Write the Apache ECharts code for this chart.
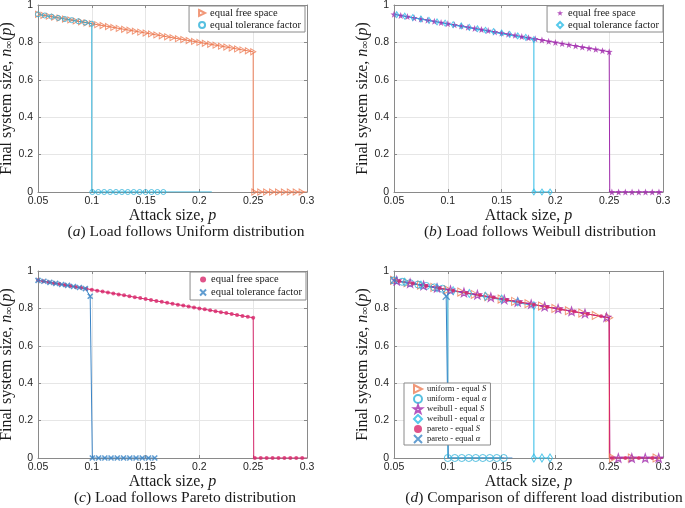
<!DOCTYPE html>
<html><head><meta charset="utf-8">
<script src="https://cdn.jsdelivr.net/npm/echarts@6/dist/echarts.min.js"></script>
<style>html,body{margin:0;padding:0;background:#fff}#c{width:685px;height:508px}</style>
</head><body><div id="c"></div>
<script>
// ---------- tick values ----------
const xTicks = [0.05, 0.1, 0.15, 0.2, 0.25, 0.3];
const yTicks = [0, 0.2, 0.4, 0.6, 0.8, 1];

// ---------- (a) Uniform ----------
const aS_lineP = [0.05, 0.25, 0.25, 0.3];
const aS_lineN = [0.95, 0.75, 0, 0];
const aS_markP = [0.05,0.055,0.06,0.065,0.07,0.075,0.08,0.085,0.09,0.095,0.1,0.105,0.11,0.115,0.12,0.125,0.13,0.135,0.14,0.145,0.15,0.155,0.16,0.165,0.17,0.175,0.18,0.185,0.19,0.195,0.2,0.205,0.21,0.215,0.22,0.225,0.23,0.235,0.24,0.245,0.25,0.251,0.2565,0.262,0.2675,0.273,0.2785,0.284,0.2895,0.295];
const aS_markN = [0.95,0.945,0.94,0.935,0.93,0.925,0.92,0.915,0.91,0.905,0.9,0.895,0.89,0.885,0.88,0.875,0.87,0.865,0.86,0.855,0.85,0.845,0.84,0.835,0.83,0.825,0.82,0.815,0.81,0.805,0.8,0.795,0.79,0.785,0.78,0.775,0.77,0.765,0.76,0.755,0.75,0,0,0,0,0,0,0,0,0];
const aT_lineP = [0.05, 0.1, 0.1, 0.2115];
const aT_lineN = [0.95, 0.9, 0, 0];
const aT_markP = [0.05,0.05625,0.0625,0.06875,0.075,0.08125,0.0875,0.09375,0.1,0.1005,0.106,0.1115,0.117,0.1225,0.128,0.1335,0.139,0.1445,0.15,0.1555,0.161,0.1665];
const aT_markN = [0.95,0.944,0.938,0.931,0.925,0.919,0.913,0.906,0.9,0,0,0,0,0,0,0,0,0,0,0,0,0];

// ---------- (b) Weibull ----------
const bS_lineP = [0.05, 0.25, 0.2505, 0.3];
const bS_lineN = [0.95, 0.75, 0, 0];
const bS_markP = [0.05,0.05625,0.0625,0.06875,0.075,0.08125,0.0875,0.09375,0.1,0.10625,0.1125,0.11875,0.125,0.13125,0.1375,0.14375,0.15,0.15625,0.1625,0.16875,0.175,0.18125,0.1875,0.19375,0.2,0.20625,0.2125,0.21875,0.225,0.23125,0.2375,0.24375,0.25,0.2525,0.25875,0.265,0.27125,0.2775,0.28375,0.29,0.29625];
const bS_markN = [0.95,0.944,0.938,0.931,0.925,0.919,0.913,0.906,0.9,0.894,0.888,0.881,0.875,0.869,0.863,0.856,0.85,0.844,0.838,0.831,0.825,0.819,0.813,0.806,0.8,0.794,0.788,0.781,0.775,0.769,0.763,0.756,0.75,0,0,0,0,0,0,0,0];
const bT_lineP = [0.05, 0.18, 0.18, 0.195];
const bT_lineN = [0.95, 0.815, 0, 0];
const bT_markP = [0.0525,0.06,0.0675,0.075,0.0825,0.09,0.0975,0.105,0.1125,0.12,0.1275,0.135,0.1425,0.15,0.1575,0.165,0.1725,0.18,0.18,0.1875,0.195];
const bT_markN = [0.948,0.94,0.933,0.925,0.918,0.91,0.903,0.895,0.888,0.88,0.873,0.865,0.858,0.85,0.843,0.835,0.827,0.815,0,0,0];

// ---------- (c) Pareto ----------
const cS_lineP = [0.05, 0.25, 0.2505, 0.3];
const cS_lineN = [0.95, 0.75, 0, 0];
const cS_markP = [0.05,0.055,0.06,0.065,0.07,0.075,0.08,0.085,0.09,0.095,0.1,0.105,0.11,0.115,0.12,0.125,0.13,0.135,0.14,0.145,0.15,0.155,0.16,0.165,0.17,0.175,0.18,0.185,0.19,0.195,0.2,0.205,0.21,0.215,0.22,0.225,0.23,0.235,0.24,0.245,0.25,0.2515,0.257,0.2625,0.268,0.2735,0.279,0.2845,0.29,0.2955];
const cS_markN = [0.95,0.945,0.94,0.935,0.93,0.925,0.92,0.915,0.91,0.905,0.9,0.895,0.89,0.885,0.88,0.875,0.87,0.865,0.86,0.855,0.85,0.845,0.84,0.835,0.83,0.825,0.82,0.815,0.81,0.805,0.8,0.795,0.79,0.785,0.78,0.775,0.77,0.765,0.76,0.755,0.75,0,0,0,0,0,0,0,0,0];
const cT_lineP = [0.05, 0.094, 0.0985, 0.1005, 0.1585];
const cT_lineN = [0.95, 0.906, 0.865, 0, 0];
const cT_markP = [0.05,0.0555,0.061,0.0665,0.072,0.0775,0.083,0.0885,0.094,0.0985,0.1005,0.1063,0.1121,0.1179,0.1237,0.1295,0.1353,0.1411,0.1469,0.1527,0.1585];
const cT_markN = [0.95,0.945,0.939,0.934,0.928,0.923,0.917,0.912,0.906,0.865,0,0,0,0,0,0,0,0,0,0,0];

// ---------- (d) Comparison ----------
const dUS_lineP = [0.05, 0.25, 0.25, 0.3];
const dUS_lineN = [0.95, 0.75, 0, 0];
const dUS_markP = [0.05,0.0625,0.075,0.0875,0.1,0.1125,0.125,0.1375,0.15,0.1625,0.175,0.1875,0.2,0.2125,0.225,0.2375,0.25,0.2535,0.271,0.294];
const dUS_markN = [0.95,0.9375,0.925,0.9125,0.9,0.8875,0.875,0.8625,0.85,0.8375,0.825,0.8125,0.8,0.7875,0.775,0.7625,0.75,0,0,0];
const dUA_lineP = [0.05, 0.1, 0.1, 0.152];
const dUA_lineN = [0.95, 0.9, 0, 0];
const dUA_markP = [0.05,0.0575,0.065,0.0725,0.08,0.0875,0.095,0.1,0.1065,0.113,0.1195,0.126,0.1325,0.139,0.1455,0.152];
const dUA_markN = [0.95,0.9425,0.935,0.9275,0.92,0.9125,0.905,0,0,0,0,0,0,0,0,0];
const dWS_lineP = [0.05, 0.25, 0.2505, 0.3];
const dWS_lineN = [0.95, 0.75, 0, 0];
const dWS_markP = [0.0525,0.065,0.0775,0.09,0.1025,0.115,0.1275,0.14,0.1525,0.165,0.1775,0.19,0.2025,0.215,0.2275,0.2475,0.2585,0.271,0.2835,0.296];
const dWS_markN = [0.948,0.935,0.923,0.91,0.898,0.885,0.873,0.86,0.848,0.835,0.823,0.81,0.798,0.785,0.773,0.753,0,0,0,0];
const dWA_lineP = [0.05, 0.18, 0.18, 0.195];
const dWA_lineN = [0.95, 0.815, 0, 0];
const dWA_markP = [0.06,0.075,0.09,0.105,0.12,0.135,0.15,0.165,0.18,0.18,0.1875,0.195];
const dWA_markN = [0.94,0.925,0.91,0.895,0.88,0.865,0.85,0.835,0.815,0,0,0];
const dPS_lineP = [0.05, 0.25, 0.2505, 0.3];
const dPS_lineN = [0.95, 0.75, 0, 0];
const dPS_markP = [0.055,0.0675,0.08,0.0925,0.105,0.1175,0.13,0.1425,0.155,0.1675,0.18,0.1925,0.205,0.2175,0.23,0.2425,0.2525,0.265,0.2775,0.29];
const dPS_markN = [0.945,0.933,0.92,0.908,0.895,0.883,0.87,0.858,0.845,0.833,0.82,0.808,0.795,0.783,0.77,0.758,0,0,0,0];
const dPA_lineP = [0.05, 0.094, 0.0985, 0.1005, 0.16];
const dPA_lineN = [0.95, 0.906, 0.865, 0, 0];
const dPA_markP = [0.05,0.0985];
const dPA_markN = [0.95,0.865];

// ---------- styling ----------
const C_OR = '#EE7E58', C_CY = '#2DB0D8', C_PU = '#A22DAE', C_DI = '#2CBBE6', C_CR = '#D8286C', C_BL = '#3A84C6';
const AX = '#8a8a8a', GRIDC = '#e6e6e6', TXT = '#1a1a1a';
const SERIF = 'Liberation Serif', SANS = 'Liberation Sans';
const TRI = 'path://M0,0L10,5L0,10Z';
const STAR = 'path://M5,0L6.18,3.38L9.76,3.45L6.9,5.62L7.94,9.05L5,7L2.06,9.05L3.1,5.62L0.24,3.45L3.82,3.38Z';
const XS = 'path://M0,0L10,10M10,0L0,10';
const NONE = 'rgba(0,0,0,0)';

const grids = [
  {left: 38, top: 5, width: 269, height: 187},
  {left: 394, top: 5, width: 269, height: 187},
  {left: 38, top: 271, width: 269, height: 187},
  {left: 394, top: 271, width: 269, height: 187}
];

const zip = (p, n) => p.map((v, i) => [v, n[i]]);
const serifRich = {
  i: {fontFamily: SERIF, fontStyle: 'italic', fontSize: 16, color: TXT},
  sub: {fontFamily: SERIF, fontSize: 11, color: TXT, verticalAlign: 'bottom'}
};

const xAxis = [], yAxis = [];
grids.forEach((g, k) => {
  const common = {type: 'value', gridIndex: k, min: xTicks[0], max: xTicks[xTicks.length - 1], interval: 0.05,
    axisLine: {show: true, onZero: false, lineStyle: {color: AX, width: 1}},
    axisTick: {show: true, inside: true, length: 3, lineStyle: {color: AX}}};
  xAxis.push(Object.assign({}, common, {position: 'bottom',
    axisLabel: {fontFamily: SANS, fontSize: 10.5, color: '#262626', margin: 4},
    splitLine: {show: true, lineStyle: {color: GRIDC, width: 1}},
    name: 'Attack size, {i|p}', nameLocation: 'middle', nameGap: 13,
    nameTextStyle: {fontFamily: SERIF, fontSize: 16, color: TXT, rich: serifRich}}));
  xAxis.push(Object.assign({}, common, {position: 'top', axisLabel: {show: false}, splitLine: {show: false}}));
  const ycommon = {type: 'value', gridIndex: k, min: yTicks[0], max: yTicks[yTicks.length - 1], interval: 0.2,
    axisLine: {show: true, onZero: false, lineStyle: {color: AX, width: 1}},
    axisTick: {show: true, inside: true, length: 3, lineStyle: {color: AX}}};
  yAxis.push(Object.assign({}, ycommon, {position: 'left',
    axisLabel: {fontFamily: SANS, fontSize: 10.5, color: '#262626', margin: 5},
    splitLine: {show: true, lineStyle: {color: GRIDC, width: 1}},
    name: 'Final system size, {i|n}{sub|∞}({i|p})', nameLocation: 'middle', nameGap: 22,
    nameTextStyle: {fontFamily: SERIF, fontSize: 16, color: TXT, rich: serifRich}}));
  yAxis.push(Object.assign({}, ycommon, {position: 'right', axisLabel: {show: false}, splitLine: {show: false}}));
});

function lineS(g, p, n, color) {
  return {type: 'line', xAxisIndex: 2 * g, yAxisIndex: 2 * g, data: zip(p, n), symbol: 'none', showSymbol: false,
    lineStyle: {color: color, width: 1}, silent: true, z: 2};
}
function markS(g, name, p, n, symbol, size, itemStyle) {
  return {type: 'scatter', name: name, xAxisIndex: 2 * g, yAxisIndex: 2 * g, data: zip(p, n), symbol: symbol,
    symbolSize: size, itemStyle: itemStyle, silent: true, z: 2};
}
const hollow = (c, w) => ({color: NONE, borderColor: c, borderWidth: w || 1});
const solid = (c) => ({color: c, borderWidth: 0});
const cross = (c, w) => ({color: NONE, borderColor: c, borderWidth: w || 1.5});

const series = [
  lineS(0, aS_lineP, aS_lineN, C_OR), markS(0, 'aS', aS_markP, aS_markN, TRI, [5, 6], hollow(C_OR)),
  lineS(0, aT_lineP, aT_lineN, C_CY), markS(0, 'aT', aT_markP, aT_markN, 'circle', 5, hollow(C_CY)),
  lineS(1, bS_lineP, bS_lineN, C_PU), markS(1, 'bS', bS_markP, bS_markN, STAR, 7, solid(C_PU)),
  lineS(1, bT_lineP, bT_lineN, C_DI), markS(1, 'bT', bT_markP, bT_markN, 'diamond', [4, 6], hollow(C_DI)),
  lineS(2, cS_lineP, cS_lineN, C_CR), markS(2, 'cS', cS_markP, cS_markN, 'circle', 4, solid(C_CR)),
  lineS(2, cT_lineP, cT_lineN, C_BL), markS(2, 'cT', cT_markP, cT_markN, XS, 5, cross(C_BL, 1.6)),
  lineS(3, dUS_lineP, dUS_lineN, C_OR), markS(3, 'dUS', dUS_markP, dUS_markN, TRI, [7, 8], hollow(C_OR)),
  lineS(3, dUA_lineP, dUA_lineN, C_CY), markS(3, 'dUA', dUA_markP, dUA_markN, 'circle', 7, hollow(C_CY)),
  lineS(3, dWS_lineP, dWS_lineN, C_PU), markS(3, 'dWS', dWS_markP, dWS_markN, STAR, 8, hollow(C_PU, 1.2)),
  lineS(3, dWA_lineP, dWA_lineN, C_DI), markS(3, 'dWA', dWA_markP, dWA_markN, 'diamond', [5, 8], hollow(C_DI)),
  lineS(3, dPS_lineP, dPS_lineN, C_CR), markS(3, 'dPS', dPS_markP, dPS_markN, 'circle', 4, solid(C_CR)),
  lineS(3, dPA_lineP, dPA_lineN, C_BL), markS(3, 'dPA', dPA_markP, dPA_markN, XS, 7, cross(C_BL, 1.3))
];

const LABELS = {
  aS: 'equal free space', aT: 'equal tolerance factor',
  bS: 'equal free space', bT: 'equal tolerance factor',
  cS: 'equal free space', cT: 'equal tolerance factor',
  dUS: 'uniform - equal {i|S}', dUA: 'uniform - equal {i|α}',
  dWS: 'weibull - equal {i|S}', dWA: 'weibull - equal {i|α}',
  dPS: 'pareto - equal {i|S}', dPA: 'pareto - equal {i|α}'
};
function legendBox(names, pos, fs, lh, iw, ih, padL) {
  return Object.assign({
    data: names, orient: 'vertical', selectedMode: false, itemGap: 0, itemWidth: iw, itemHeight: ih,
    padding: [1, 4, 1, padL], backgroundColor: '#fff', borderColor: AX, borderWidth: 1, borderRadius: 0,
    formatter: (n) => LABELS[n],
    textStyle: {fontFamily: SERIF, fontSize: fs, lineHeight: lh, color: TXT,
      rich: {i: {fontFamily: SERIF, fontStyle: 'italic', fontSize: fs, lineHeight: lh, color: TXT}}}
  }, pos);
}

const capRich = {i: {fontFamily: SERIF, fontStyle: 'italic', fontSize: 15.5, fill: TXT}};
function caption(text, x, y) {
  return {type: 'text', x: x, y: y, silent: true,
    style: {text: text, fontFamily: SERIF, fontSize: 15.5, fill: TXT, align: 'center', verticalAlign: 'middle', rich: capRich}};
}

const chart = echarts.init(document.getElementById('c'), null, {renderer: 'canvas'});
chart.setOption({
  animation: false,
  backgroundColor: '#fff',
  grid: grids.map(g => Object.assign({containLabel: false, outerBoundsMode: 'none'}, g)),
  xAxis: xAxis, yAxis: yAxis,
  legend: [
    legendBox(['aS', 'aT'], {right: 380, top: 6}, 10.5, 12, 6, 6, 9),
    legendBox(['bS', 'bT'], {right: 22, top: 6}, 10.5, 12, 6, 6, 9),
    legendBox(['cS', 'cT'], {right: 379, top: 272}, 10.5, 13, 6, 6, 9),
    legendBox(['dUS', 'dUA', 'dWS', 'dWA', 'dPS', 'dPA'], {left: 404, top: 383}, 8.5, 10, 8, 8, 9)
  ],
  series: series,
  graphic: [
    caption('({i|a}) Load follows Uniform distribution', 186, 232),
    caption('({i|b}) Load follows Weibull distribution', 540, 232),
    caption('({i|c}) Load follows Pareto distribution', 185, 498),
    caption('({i|d}) Comparison of different load distribution', 544, 498)
  ]
});
</script></body></html>
